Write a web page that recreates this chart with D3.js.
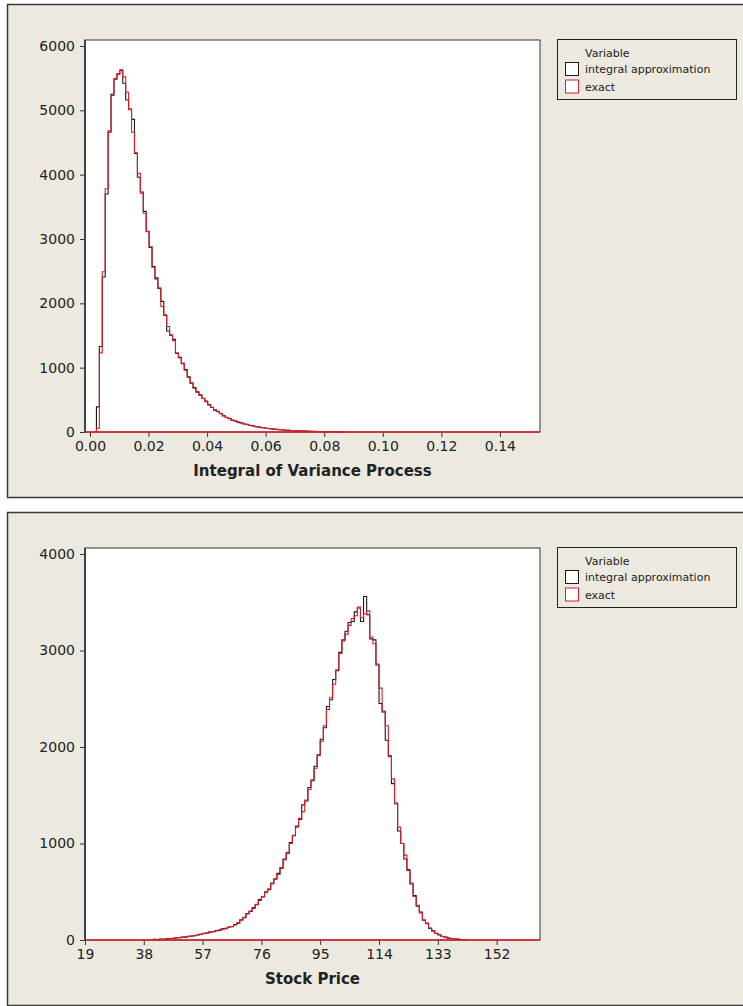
<!DOCTYPE html>
<html>
<head>
<meta charset="utf-8">
<script src="https://cdn.jsdelivr.net/npm/d3@7/dist/d3.min.js"></script>
<style>
  html, body { margin: 0; padding: 0; background: #ffffff; }
  svg { display: block; }
  text { font-family: "DejaVu Sans", Verdana, sans-serif; }
</style>
</head>
<body>
<svg id="chart" width="743" height="1006"></svg>
<script>
// ---- Histogram 1: integral of the variance process ----
const varBinStart = 0.0022;
const varBinWidth = 0.001;
const varExact = [60,1230,2490,3780,4680,5230,5480,5570,5630,5520,
  5280,5010,4660,4340,4020,3710,3400,3115,2880,2560,
  2400,2240,1950,1820,1640,1510,1420,1230,1150,1070,
  960,860,760,680,630,570,520,470,420,385,
  345,315,290,250,228,207,185,170,155,140,
  128,115,105,95,85,77,70,63,57,51,
  46,41,37,33,30,27,24,21,19,17,
  15,13,12,10,9,8,7,6,5,5,
  4,4,3,3,2];
const varApprox = [390,1330,2410,3700,4660,5250,5490,5560,5620,5420,
  5160,5020,4860,4330,3960,3730,3430,3120,2870,2570,
  2380,2230,2030,1810,1570,1500,1440,1220,1160,1060,
  970,850,760,690,620,580,525,480,425,380,
  340,320,285,255,225,210,180,172,150,142,
  125,118,100,97,82,80,68,65,55,52,
  44,42,35,34,28,28,22,22,18,17,
  14,14,11,10,8,8,6,6,5,4,
  4,3,3,2,2];
const varXTicks = [0.00,0.02,0.04,0.06,0.08,0.10,0.12,0.14];
const varYTicks = [0,1000,2000,3000,4000,5000,6000];

// ---- Histogram 2: stock price ----
const priceBinStart = 41;
const priceBinWidth = 1;
const priceExact = [3,5,6,8,10,13,18,22,25,28,
  32,36,40,46,52,60,68,74,80,87,
  95,103,110,120,130,140,155,178,205,235,
  270,300,328,370,410,450,490,530,580,635,
  680,750,830,910,1000,1085,1170,1260,1330,1450,
  1560,1660,1780,1910,2060,2220,2390,2510,2650,2800,
  2970,3100,3170,3260,3330,3360,3450,3340,3380,3410,
  3140,3070,2860,2610,2360,2220,1900,1670,1410,1170,
  1000,880,720,590,450,360,280,210,170,125,
  90,70,52,38,28,20,15,10,8,5,
  3];
const priceApprox = [8,4,10,6,12,15,16,25,23,30,
  30,38,42,44,55,58,70,72,84,85,
  98,100,115,118,135,138,160,175,210,230,
  275,295,335,365,420,445,500,520,590,630,
  690,745,840,900,1010,1080,1180,1250,1400,1440,
  1580,1650,1800,1920,2080,2200,2420,2490,2700,2790,
  2980,3110,3200,3290,3300,3400,3440,3300,3560,3370,
  3120,3110,2850,2450,2370,2070,1910,1620,1420,1130,
  1000,840,730,580,460,350,290,205,175,120,
  95,68,55,36,30,19,16,9,9,4,
  4];
const priceXTicks = [19,38,57,76,95,114,133,152];
const priceYTicks = [0,1000,2000,3000,4000];

const seriesNames = ["integral approximation", "exact"];
const seriesColors = ["#1a1a1a", "#d81e28"];

const svg = d3.select("#chart");

function drawPanel(cfg) {
  const g = svg.append("g").attr("transform", `translate(0,${cfg.top})`);

  // panel background and frame
  g.append("rect")
    .attr("x", 7.5).attr("y", 4.5).attr("width", 745).attr("height", 493)
    .attr("fill", "#ece9e0").attr("stroke", "#3a3a3a").attr("stroke-width", 1.5);

  const plot = { left: 85, right: 540, top: 40, bottom: 432 };
  const x = d3.scaleLinear().domain(cfg.xDomain).range([plot.left, plot.right]);
  const y = d3.scaleLinear().domain([0, cfg.yMax]).range([plot.bottom, plot.top]);

  g.append("rect")
    .attr("x", plot.left).attr("y", plot.top)
    .attr("width", plot.right - plot.left).attr("height", plot.bottom - plot.top)
    .attr("fill", "#ffffff").attr("stroke", "#333333").attr("stroke-width", 1);

  // axes
  const yAxis = d3.axisLeft(y).tickValues(cfg.yTicks).tickSize(5).tickSizeOuter(0)
    .tickPadding(5).tickFormat(d3.format("d"));
  const gy = g.append("g").attr("transform", `translate(${plot.left},0)`).call(yAxis);
  const xAxis = d3.axisBottom(x).tickValues(cfg.xTicks).tickSize(5).tickSizeOuter(0)
    .tickPadding(4).tickFormat(cfg.xFormat);
  const gx = g.append("g").attr("transform", `translate(0,${plot.bottom})`).call(xAxis);
  [gx, gy].forEach(a => {
    a.select(".domain").remove();
    a.selectAll(".tick line").attr("stroke", "#333333").attr("stroke-width", 1);
    a.selectAll(".tick text").attr("fill", "#222222")
      .style("font-size", "14px").style("font-family", "DejaVu Sans, sans-serif");
  });

  // thicker left axis line
  g.append("line")
    .attr("x1", plot.left).attr("x2", plot.left)
    .attr("y1", plot.top).attr("y2", plot.bottom)
    .attr("stroke", "#444444").attr("stroke-width", 2);

  // step outlines of each histogram
  const line = d3.line().x(d => x(d[0])).y(d => y(d[1])).curve(d3.curveStepAfter);
  cfg.series.forEach((vals, i) => {
    const pts = [[cfg.binStart, 0]];
    vals.forEach((v, k) => pts.push([cfg.binStart + k * cfg.binWidth, v]));
    pts.push([cfg.binStart + vals.length * cfg.binWidth, 0]);
    g.append("path").attr("d", line(pts))
      .attr("fill", "none").attr("stroke", seriesColors[i]).attr("stroke-width", 1.1);
  });

  // baseline of the exact series across the plot
  g.append("line")
    .attr("x1", plot.left).attr("x2", plot.right)
    .attr("y1", y(0)).attr("y2", y(0))
    .attr("stroke", seriesColors[1]).attr("stroke-width", 1.4);

  // axis title
  g.append("text")
    .attr("x", (plot.left + plot.right) / 2).attr("y", 476)
    .attr("text-anchor", "middle")
    .style("font-size", "15px").style("font-weight", "bold").attr("fill", "#222222")
    .text(cfg.xTitle);

  // legend
  const lg = g.append("g");
  lg.append("rect").attr("x", 557.5).attr("y", 39.5).attr("width", 179).attr("height", 60)
    .attr("fill", "#ece9e0").attr("stroke", "#222222").attr("stroke-width", 1);
  lg.append("text").attr("x", 585).attr("y", 57)
    .style("font-size", "11px").attr("fill", "#222222").text("Variable");
  seriesNames.forEach((name, i) => {
    const yy = 62 + i * 17.5;
    lg.append("rect").attr("x", 565.5).attr("y", yy + 0.5).attr("width", 13).attr("height", 13)
      .attr("fill", "#ffffff").attr("stroke", seriesColors[i]).attr("stroke-width", 1);
    lg.append("text").attr("x", 585).attr("y", yy + 11)
      .style("font-size", "11px").attr("fill", "#222222").text(name);
  });
}

drawPanel({
  top: 0,
  xDomain: [-0.0017, 0.1537],
  yMax: 6093,
  xTicks: varXTicks,
  yTicks: varYTicks,
  xFormat: d3.format(".2f"),
  binStart: varBinStart,
  binWidth: varBinWidth,
  series: [varApprox, varExact],
  xTitle: "Integral of Variance Process"
});

drawPanel({
  top: 508,
  xDomain: [19, 166],
  yMax: 4062,
  xTicks: priceXTicks,
  yTicks: priceYTicks,
  xFormat: d3.format("d"),
  binStart: priceBinStart,
  binWidth: priceBinWidth,
  series: [priceApprox, priceExact],
  xTitle: "Stock Price"
});
</script>
</body>
</html>
